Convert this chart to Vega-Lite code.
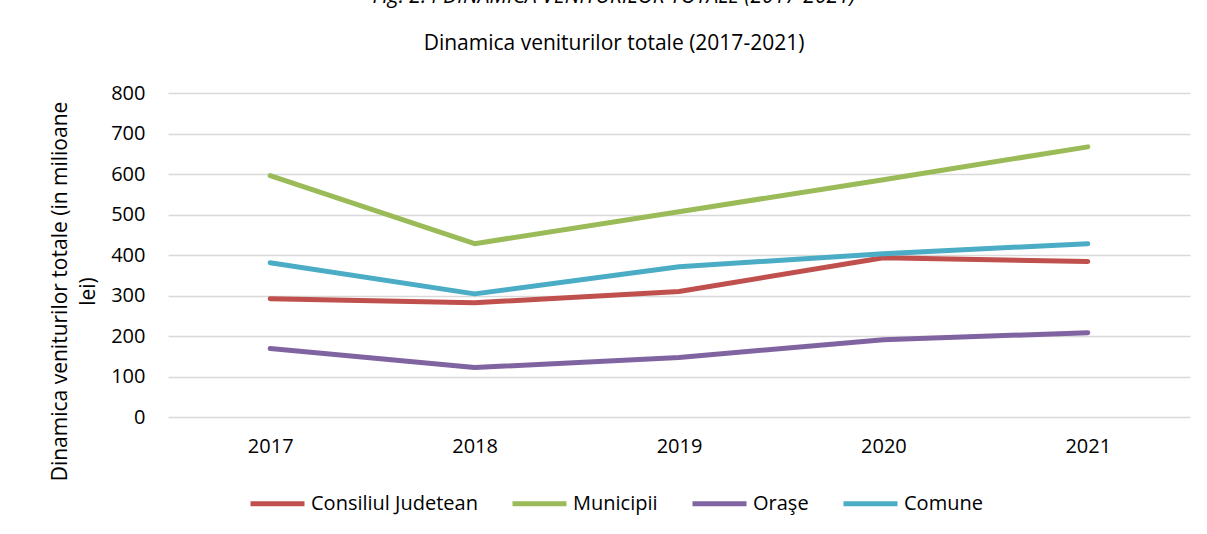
{
  "$schema": "https://vega.github.io/schema/vega-lite/v6.json",
  "width": 1022,
  "height": 324,
  "autosize": "none",
  "padding": {"left": 168, "top": 93, "right": 17, "bottom": 117},
  "background": "white",
  "title": {
    "text": "Fig. 2.4 DINAMICA VENITURILOR TOTALE (2017-2021)",
    "subtitle": "Dinamica veniturilor totale (2017-2021)",
    "anchor": "middle",
    "dx": -65,
    "offset": 29,
    "font": "Open Sans",
    "fontStyle": "italic",
    "fontWeight": "normal",
    "fontSize": 21,
    "color": "#000000",
    "subtitleFont": "Open Sans",
    "subtitleFontSize": 21,
    "subtitleColor": "#000000",
    "subtitlePadding": 26
  },
  "data": {
    "values": [
      {"an": "2017", "serie": "Consiliul Judetean", "valoare": 292},
      {"an": "2018", "serie": "Consiliul Judetean", "valoare": 282},
      {"an": "2019", "serie": "Consiliul Judetean", "valoare": 310},
      {"an": "2020", "serie": "Consiliul Judetean", "valoare": 393},
      {"an": "2021", "serie": "Consiliul Judetean", "valoare": 384},
      {"an": "2017", "serie": "Municipii", "valoare": 596},
      {"an": "2018", "serie": "Municipii", "valoare": 428},
      {"an": "2019", "serie": "Municipii", "valoare": 507},
      {"an": "2020", "serie": "Municipii", "valoare": 586},
      {"an": "2021", "serie": "Municipii", "valoare": 667},
      {"an": "2017", "serie": "Oraşe", "valoare": 169},
      {"an": "2018", "serie": "Oraşe", "valoare": 122},
      {"an": "2019", "serie": "Oraşe", "valoare": 147},
      {"an": "2020", "serie": "Oraşe", "valoare": 191},
      {"an": "2021", "serie": "Oraşe", "valoare": 208},
      {"an": "2017", "serie": "Comune", "valoare": 381},
      {"an": "2018", "serie": "Comune", "valoare": 304},
      {"an": "2019", "serie": "Comune", "valoare": 371},
      {"an": "2020", "serie": "Comune", "valoare": 403},
      {"an": "2021", "serie": "Comune", "valoare": 428}
    ]
  },
  "mark": {"type": "line", "strokeWidth": 5, "strokeCap": "round", "strokeJoin": "round"},
  "encoding": {
    "x": {
      "field": "an",
      "type": "ordinal",
      "scale": {"type": "point", "padding": 0.5},
      "axis": {
        "title": null,
        "labelAngle": 0,
        "labelFont": "Open Sans",
        "labelFontSize": 20,
        "labelColor": "#000000",
        "labelPadding": 19,
        "domain": false,
        "ticks": false,
        "grid": false
      }
    },
    "y": {
      "field": "valoare",
      "type": "quantitative",
      "scale": {"domain": [0, 800], "nice": false},
      "axis": {
        "values": [0, 100, 200, 300, 400, 500, 600, 700, 800],
        "title": ["Dinamica veniturilor totale (in milioane", "lei)"],
        "titleFont": "Open Sans",
        "titleFontSize": 21,
        "titleFontWeight": "normal",
        "titleColor": "#000000",
        "titleLineHeight": 28,
        "titleY": 198,
        "titlePadding": 12,
        "labelFont": "Open Sans",
        "labelFontSize": 20,
        "labelColor": "#000000",
        "labelPadding": 23,
        "domain": false,
        "ticks": false,
        "grid": true,
        "gridColor": "#d9d9d9",
        "gridWidth": 1.5
      }
    },
    "color": {
      "field": "serie",
      "type": "nominal",
      "sort": ["Consiliul Judetean", "Municipii", "Oraşe", "Comune"],
      "scale": {
        "domain": ["Consiliul Judetean", "Municipii", "Oraşe", "Comune"],
        "range": ["#C0504D", "#9BBB59", "#8064A2", "#4BACC6"]
      },
      "legend": {
        "title": null,
        "orient": "none",
        "legendX": 80,
        "legendY": 381,
        "direction": "horizontal",
        "symbolType": "stroke",
        "symbolSize": 2916,
        "symbolStrokeWidth": 5,
        "labelFont": "Open Sans",
        "labelFontSize": 20,
        "labelColor": "#000000",
        "labelOffset": 4,
        "labelLimit": 0,
        "columnPadding": 24
      }
    }
  },
  "config": {
    "view": {"stroke": null}
  }
}
